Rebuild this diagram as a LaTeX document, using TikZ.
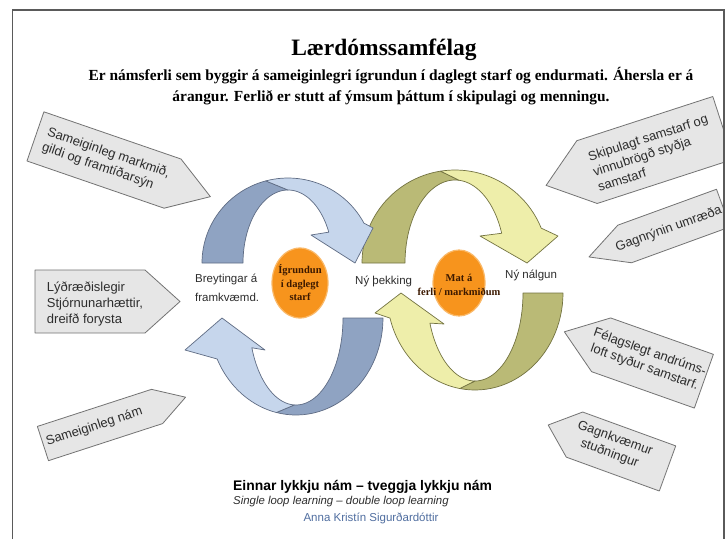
\documentclass[tikz,border=0pt]{standalone}
\usepackage{fontspec}
\setmainfont{Liberation Serif}
\setsansfont{Liberation Sans}
\definecolor{framec}{RGB}{90,90,90}
\definecolor{boxfill}{RGB}{230,230,230}
\definecolor{boxline}{RGB}{115,115,115}
\definecolor{sidetextc}{RGB}{45,45,45}
\definecolor{bluedark}{RGB}{143,163,194}
\definecolor{bluelight}{RGB}{198,214,236}
\definecolor{blueline}{RGB}{95,108,132}
\definecolor{olivedark}{RGB}{186,186,118}
\definecolor{olivelight}{RGB}{238,238,170}
\definecolor{oliveline}{RGB}{115,115,65}
\definecolor{orangefill}{RGB}{247,148,29}
\definecolor{orangeedge}{RGB}{250,185,105}
\definecolor{ovaltextc}{RGB}{60,25,0}
\definecolor{authorblue}{RGB}{80,110,160}
\begin{document}
\begin{tikzpicture}[x=1pt,y=-1pt,
  sidebox/.style={fill=boxfill, draw=boxline, line width=0.8pt, line join=round},
  sidetext/.style={font=\sffamily\fontsize{13}{16}\selectfont, text=sidetextc, inner sep=0pt, transform shape},
  looptext/.style={font=\sffamily\fontsize{11.5}{19}\selectfont, text=sidetextc, inner sep=0pt, anchor=west, align=left},
  ovaltext/.style={font=\bfseries\fontsize{10.5}{13.5}\selectfont, text=ovaltextc, inner sep=0pt, align=center},
  bandblue/.style={draw=blueline, line width=0.7pt, line join=round},
  bandolive/.style={draw=oliveline, line width=0.7pt, line join=round}]
\useasboundingbox (0,0) rectangle (728,539);
\fill[white] (0,0) rectangle (728,539);

\begin{scope}
\clip (12.5,10) rectangle (724,539);

% left pentagons
\begin{scope}[shift={(104,160)}, rotate=-19]
 \draw[sidebox] (-72.5,-26) -- (72.5,-26) -- (112.5,0) -- (72.5,26) -- (-72.5,26) -- cycle;
 \node[sidetext, align=left] (s1) at (2,0) {Sameiginleg markmið,\\gildi og framtíðarsýn};
\end{scope}
\begin{scope}[shift={(90,301.5)}]
 \draw[sidebox] (-55,-31.5) -- (55,-31.5) -- (90,0) -- (55,31.5) -- (-55,31.5) -- cycle;
 \node[sidetext, align=left] (s2) at (5,3) {Lýðræðislegir\\Stjórnunarhættir,\\dreifð forysta};
\end{scope}
\begin{scope}[shift={(100,425)}, rotate=18]
 \draw[sidebox] (-60,-18) -- (60,-18) -- (90,0) -- (60,18) -- (-60,18) -- cycle;
 \node[sidetext] (s3) at (-6,0) {Sameiginleg nám};
\end{scope}

% right pentagons
\begin{scope}[shift={(655,150)}, rotate=18]
 \draw[sidebox] (71.5,-33) -- (-71.5,-33) -- (-114.5,0) -- (-71.5,33) -- (71.5,33) -- cycle;
 \node[sidetext, align=left] (s4) at (-3,2) {Skipulagt samstarf og\\vinnubrögð styðja\\samstarf};
\end{scope}
\begin{scope}[shift={(674,226)}, rotate=20]
 \draw[sidebox] (52.5,-20) -- (-52.5,-20) -- (-90.5,0) -- (-52.5,20) -- (52.5,20) -- cycle;
 \node[sidetext] (s5) at (-6,1) {Gagnrýnin umræða};
\end{scope}
\begin{scope}[shift={(652.5,363)}, rotate=-19.5]
 \draw[sidebox] (54.5,-28.5) -- (-54.5,-28.5) -- (-93.5,0) -- (-54.5,28.5) -- (54.5,28.5) -- cycle;
 \node[sidetext, align=center] (s6) at (-6,-1) {Félagslegt andrúms-\\loft styður samstarf.};
\end{scope}
\begin{scope}[shift={(621,451.5)}, rotate=-20]
 \draw[sidebox] (49.5,-24) -- (-49.5,-24) -- (-77.5,0) -- (-49.5,24) -- (49.5,24) -- cycle;
 \node[sidetext, align=center] (s7) at (-10,-2) {Gagnkvæmur\\stuðningur};
\end{scope}

% olive top arc
\fill[olivedark, bandolive] plot[domain=180:99, samples=30] ({455+93*cos(\x)},{263-93*sin(\x)})
  -- plot[domain=85:180, samples=30] ({455+50*cos(\x)},{263-83*sin(\x)}) -- cycle;
\fill[olivelight, bandolive] plot[domain=99:22, samples=30] ({455+93*cos(\x)},{263-93*sin(\x)})
  -- (558,236) -- (527,263) -- (480,236)
  -- plot[domain=21:85, samples=30] ({455+50*cos(\x)},{263-83*sin(\x)}) -- cycle;

% blue top arc
\fill[bluedark, bandblue] plot[domain=180:105, samples=30] ({288+86*cos(\x)},{263-85*sin(\x)})
  -- plot[domain=90:180, samples=30] ({288+45*cos(\x)},{263-73*sin(\x)}) -- cycle;
\fill[bluelight, bandblue] plot[domain=105:28, samples=30] ({288+86*cos(\x)},{263-85*sin(\x)})
  -- (373,228) -- (355,263) -- (311,235)
  -- plot[domain=25:90, samples=30] ({288+45*cos(\x)},{263-73*sin(\x)}) -- cycle;

% blue bottom arc
\fill[bluedark, bandblue] plot[domain=0:-103, samples=30] ({296+87*cos(\x)},{318-97*sin(\x)})
  -- plot[domain=-92:0, samples=30] ({296+47*cos(\x)},{318-87*sin(\x)}) -- cycle;
\fill[bluelight, bandblue] plot[domain=-103:-155, samples=30] ({296+87*cos(\x)},{318-97*sin(\x)})
  -- (185,350) -- (222,318) -- (265,350)
  -- plot[domain=-160:-92, samples=30] ({296+47*cos(\x)},{318-87*sin(\x)}) -- cycle;

% olive bottom arc
\fill[olivedark, bandolive] plot[domain=0:-100, samples=30] ({475+88*cos(\x)},{293-97*sin(\x)})
  -- plot[domain=-90:0, samples=30] ({475+48*cos(\x)},{293-88*sin(\x)}) -- cycle;
\fill[olivelight, bandolive] plot[domain=-100:-165, samples=30] ({475+88*cos(\x)},{293-97*sin(\x)})
  -- (375,313) -- (401,293) -- (444,324)
  -- plot[domain=-160:-90, samples=30] ({475+48*cos(\x)},{293-88*sin(\x)}) -- cycle;

% orange ovals
\fill[orangefill, draw=orangeedge, line width=1.2pt] (300,283) ellipse [x radius=28pt, y radius=35pt];
\fill[orangefill, draw=orangeedge, line width=1.2pt] (459,283) ellipse [x radius=26pt, y radius=33pt];
\end{scope}

% frame
\draw[framec, line width=1.2pt] (12.5,539) -- (12.5,10) -- (724,10) -- (724,539);

% texts
\node[font=\bfseries\fontsize{23.5}{28}\selectfont, inner sep=0pt] (title) at (384,50) {Lærdómssamfélag};
\node[font=\bfseries\fontsize{15.4}{21}\selectfont, align=center, inner sep=0pt] (subtitle) at (391,86)
  {Er námsferli sem byggir á sameiginlegri ígrundun í daglegt starf og endurmati. Áhersla er á\\árangur. Ferlið er stutt af ýmsum þáttum í skipulagi og menningu.};

\node[ovaltext] (o1) at (300,283) {Ígrundun\\í daglegt\\starf};
\node[ovaltext] (o2) at (459,285) {Mat á\\ferli / markmiðum};

\node[looptext] (l1) at (195,288) {Breytingar á\\framkvæmd.};
\node[looptext] (l2) at (355,281) {Ný þekking};
\node[looptext] (l3) at (505,275) {Ný nálgun};

\node[font=\sffamily\bfseries\fontsize{13.9}{16}\selectfont, anchor=west, inner sep=0pt] (b1) at (233,487) {Einnar lykkju nám – tveggja lykkju nám};
\node[font=\sffamily\itshape\fontsize{11.4}{14}\selectfont, anchor=west, inner sep=0pt, text=sidetextc] (b2) at (233,502) {Single loop learning – double loop learning};
\node[font=\sffamily\fontsize{11.5}{14}\selectfont, inner sep=0pt, text=authorblue] (b3) at (371,518) {Anna Kristín Sigurðardóttir};
\end{tikzpicture}
\end{document}
